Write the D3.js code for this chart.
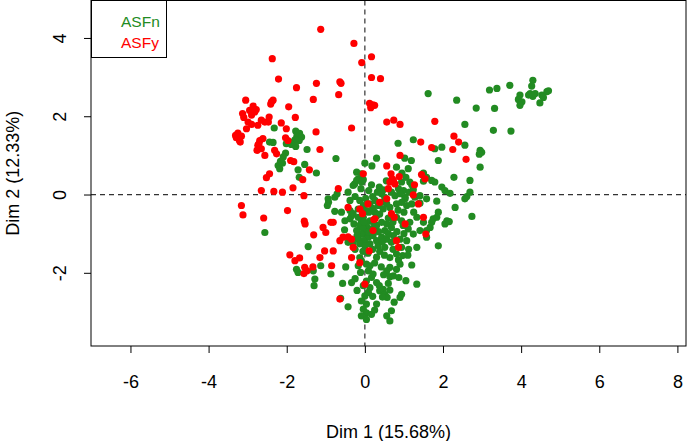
<!DOCTYPE html>
<html><head><meta charset="utf-8">
<script src="https://cdn.jsdelivr.net/npm/d3@7"></script>
<style>
html,body{margin:0;padding:0;background:#fff;}
text{font-family:"Liberation Sans",Arial,sans-serif;}
</style></head>
<body><svg id="c" width="698" height="441"></svg>
<script>
const xTicks = [-6,-4,-2,0,2,4,6,8];
const yTicks = [-2,0,2,4];
const groups = ["ASFn","ASFy"];
const colors = ["#228B22","#FF0000"];
const xTitle = "Dim 1 (15.68%)";
const yTitle = "Dim 2 (12.33%)";

const asfn = [
[-2.32,1.70],[-1.77,1.62],[-1.67,1.56],[-1.74,1.49],[-1.62,1.47],[-1.68,1.38],[-1.79,1.40],[-1.92,1.34],[-2.01,1.30],[-1.88,1.28],
[-2.44,1.34],[-2.35,1.33],[-1.77,1.23],[-1.48,1.15],[-2.03,1.06],[-2.09,0.96],[-2.16,0.85],[-2.22,0.74],[-2.18,0.66],[-2.11,0.80],
[-1.54,0.77],[-1.71,0.63],[-1.68,0.44],[-1.24,0.55],[-0.74,0.92],[-0.21,0.57],[-0.17,0.40],[-0.26,0.27],[-0.94,-0.11],[-0.71,0.02],
[-0.43,0.06],[-0.21,0.36],[-0.09,0.53],[-0.30,0.23],[-0.08,0.32],[-0.04,0.38],[-0.93,-0.20],[-0.96,-0.28],[-0.77,-0.43],[-0.77,-0.07],
[0.00,0.80],[0.18,0.73],[0.30,0.93],[0.85,1.31],[1.24,1.40],[1.02,0.93],[1.19,0.87],[0.81,0.70],
[0.17,0.25],[0.37,0.19],[0.47,0.12],[0.43,0.02],[0.32,0.06],[0.51,-0.07],
[1.11,0.66],[1.05,0.44],[1.15,0.32],[0.94,0.32],[0.86,0.15],[0.99,0.10],[1.14,0.06],[1.24,0.12],[1.03,-0.07],
[1.50,0.55],[1.58,0.44],[1.71,0.36],[1.79,0.32],[1.50,0.34],
[-0.51,-0.67],[-0.38,-0.62],[-0.34,-0.54],
[-0.13,-0.15],[-0.04,-0.28],[-0.17,-0.37],[0.04,-0.41],[0.13,-0.24],[0.26,-0.15],[0.34,-0.28],[0.43,-0.20],[0.56,-0.24],[0.64,-0.33],[0.47,-0.37],
[0.68,0.06],[0.77,-0.03],[0.90,0.02],[1.03,-0.11],[0.94,-0.20],[0.81,-0.24],[1.07,-0.28],[1.20,-0.24],[1.28,-0.07],[1.41,-0.03],[1.58,-0.11],[1.41,-0.22],
[-0.04,-0.58],[0.13,-0.67],[0.04,-0.79],[0.17,-0.88],[0.30,-0.79],[0.43,-0.71],[0.56,-0.75],[0.51,-0.92],[0.68,-0.84],[0.81,-0.58],[0.94,-0.67],[0.98,-0.79],[1.15,-0.71],[1.11,-0.88],[1.33,-0.58],[1.50,-0.71],[1.41,-0.92],
[-0.04,-1.01],[0.09,-1.09],[0.21,-1.05],[0.00,-1.22],[0.13,-1.26],[0.30,-1.18],[0.43,-1.09],[0.34,-1.31],[0.56,-1.14],[0.51,-1.35],[0.68,-1.22],[0.73,-1.05],[0.90,-1.14],[0.94,-1.35],[1.07,-1.18],[1.24,-1.01],[1.33,-1.35],[1.58,-1.09],[1.67,-0.84],
[-0.38,-0.15],[-0.38,-0.41],[-0.30,-0.49],
[-0.17,-0.58],[-0.09,-0.67],[-0.13,-0.79],[-0.21,-0.92],[-0.04,-0.88],[-0.09,-1.01],[-0.17,-1.14],[-0.04,-1.18],[-0.13,-1.26],[0.00,-1.31],
[-0.43,-1.22],[-0.30,-1.26],[-0.13,-1.61],[-0.09,-1.69],[-0.17,-1.82],
[-2.56,-0.97],[-1.45,-1.33],[-1.75,-1.91],[-1.71,-1.99],
[-1.13,-1.82],[-1.32,-1.95],[-1.28,-2.16],[-1.30,-2.33],
[-0.87,-2.03],[-0.49,-1.85],[-0.57,-2.27],[-0.34,-2.25],[-0.62,-2.65],[-0.43,-2.87],[-0.11,-1.99],
[0.04,-1.78],[0.13,-1.82],[0.09,-1.95],[0.17,-2.12],[0.21,-2.03],[0.04,-2.21],[-0.04,-2.33],[0.13,-2.38],[0.09,-2.50],[0.00,-2.59],
[-0.09,-2.72],[0.04,-2.80],[-0.04,-2.93],[0.04,-3.02],[-0.09,-3.10],[0.17,-3.06],[0.04,-3.19],
[0.37,-2.33],[0.38,-2.46],[0.47,-2.42],[0.51,-2.55],[0.57,-2.63],[0.45,-2.62],[0.64,-2.44],[0.60,-2.27],
[0.68,-2.97],[0.56,-3.10],[0.64,-3.23],[0.64,-2.10],[0.73,-2.08],[0.90,-2.63],[0.94,-2.55],[0.87,-2.12],
[0.81,-1.91],[0.64,-1.86],[0.56,-1.95],[0.86,-1.67],[0.97,-1.56],[0.90,-1.78],[0.81,-1.52],[0.64,-1.61],
[1.33,-2.29],[1.88,-1.31],
[-0.25,-0.05],[0.02,-0.10],[0.20,-0.05],[0.10,-0.45],[0.25,-0.45],[0.38,-0.50],[0.20,-0.35],[-0.02,-0.70],[0.22,-0.72],[0.35,-0.95],
[0.10,-0.95],[0.60,-0.60],[0.72,-0.70],[0.60,-1.00],[0.45,-1.20],[0.20,-1.40],[0.38,-1.45],[0.08,-1.50],[-0.05,-1.45],[0.30,-1.60],
[0.50,-1.55],[0.72,-1.40],[0.25,-1.75],[0.42,-1.85],[0.48,-2.05],[0.30,-2.25],[-0.25,-1.40],[-0.20,-1.05],[-0.28,-0.75],[-0.52,-0.90],
[-0.60,-0.45],[0.85,-0.40],[1.00,-0.45],[1.25,-0.45],[1.20,0.25],[0.95,0.55],[0.55,0.35],[0.10,0.10],[-0.10,0.15],[0.30,-0.55],
[0.82,-0.95],[1.00,-1.00],[1.12,-1.40],[0.20,-2.60],[0.30,-2.80],[0.25,-2.95],[-0.20,-2.45],[-0.25,-2.15],[0.75,-2.75],[1.05,-2.20],
[1.20,-1.80],[1.10,-1.55],
[2.56,1.79],[3.29,1.64],[1.79,1.17],[1.97,1.21],[2.56,1.26],[2.95,1.13],[2.99,1.08],[2.93,1.03],[1.88,0.87],[2.95,0.70],
[2.28,0.44],[2.69,0.36],[1.97,0.19],[2.05,0.10],[2.18,0.03],[2.61,-0.05],[2.69,0.06],[2.56,-0.11],[1.84,-0.17],[1.88,-0.45],
[1.75,-0.62],[1.84,-0.58],[1.71,-0.71],[2.10,-0.67],[2.05,-0.75],[2.16,-0.69],[2.74,-0.56],[1.58,-0.92],[2.31,-0.33],
[1.62,2.58],[2.35,2.41],[2.85,2.21],[3.32,2.20],[3.19,2.67],[3.38,2.71],[3.71,2.79],[3.74,1.62],
[4.30,2.92],[4.27,2.77],[4.23,2.58],[4.19,2.54],[4.30,2.51],[3.97,2.54],[3.93,2.43],[4.02,2.37],[3.97,2.28],[4.53,2.54],[4.57,2.48],[4.66,2.63],[4.48,2.34],[4.36,2.58],[4.70,2.65]
];

const asfy = [
[-1.13,4.22],[-0.28,3.86],[0.17,3.52],[-0.08,3.37],[-2.37,3.47],[-2.21,2.95],[0.17,2.99],[0.40,2.96],[-1.75,2.73],[-1.24,2.84],
[-0.64,2.88],[-0.61,2.84],[-0.67,2.55],[-1.32,2.43],[0.12,2.33],[0.20,2.29],[0.15,2.22],[0.25,2.28],
[-3.05,2.41],[-2.39,2.37],[-2.35,2.41],[-2.41,2.31],[-1.95,2.24],[-1.78,1.97],[-0.34,1.70],[-1.25,1.60],[-1.15,1.15],
[0.56,1.85],[0.74,1.90],[0.90,1.79],[0.90,1.00],[0.56,0.73],
[-2.86,2.26],[-2.95,2.15],[-2.82,2.11],[-2.90,2.03],[-3.13,2.07],[-2.78,2.17],
[-3.10,1.97],[-2.99,1.85],[-2.90,1.79],[-3.03,1.68],[-2.74,1.77],[-2.65,1.90],[-2.56,1.85],[-2.45,1.98],[-2.47,1.85],
[-2.14,1.83],[-2.01,1.68],
[-3.25,1.57],[-3.29,1.45],[-3.21,1.38],[-3.16,1.49],[-3.31,1.51],[-3.19,1.34],
[-2.69,1.38],[-2.61,1.43],[-2.74,1.26],[-2.76,1.13],[-2.65,1.17],[-2.71,1.30],
[-2.56,1.00],[-2.31,1.13],[-2.26,1.04],[-2.03,1.45],[-1.97,1.38],
[-1.90,0.87],[-1.82,0.84],[-1.42,0.63],[-1.59,0.38],[-2.44,0.53],[-2.52,0.43],
[-2.65,0.10],[-2.33,0.08],[-2.11,0.06],[-1.84,0.17],[-1.56,-0.03],[-0.68,0.15],
[-3.16,-0.28],[-3.12,-0.52],[-2.59,-0.60],[-1.98,-0.41],[-1.55,-0.68],[-1.53,-0.75],[-1.07,-0.84],[-1.00,-0.97],[-1.31,-1.03],[-0.87,-0.71],[-0.81,-0.71],
[-0.43,-0.33],[-0.13,-0.37],[-0.06,-0.49],
[-0.64,-1.18],[-0.56,-1.09],[-0.43,-1.08],[-0.34,-1.14],[-0.30,-1.35],[-0.34,-1.61],[0.11,-1.44],[0.23,-0.64],[0.08,-0.24],
[-1.92,-1.54],[-1.79,-1.69],[-1.67,-1.62],[-1.54,-1.86],[-1.48,-1.95],[-1.56,-2.02],[-1.33,-1.85],[-1.15,-1.61],[-1.03,-1.44],[-0.81,-1.44],[-0.85,-1.82],
[0.00,-2.29],[0.81,-1.18],[0.86,-1.35],
[0.67,0.53],[0.73,0.36],[0.70,0.40],[0.88,0.46],[0.77,0.27],[0.64,0.32],
[-0.04,0.53],[1.27,0.25],[1.45,0.51],[1.54,0.40],[0.60,0.15],[1.37,-0.24],[0.26,-0.62],[0.68,-0.49],[0.75,-0.58],[1.03,-0.75],[1.50,-0.58],[1.56,-1.01],[0.21,-0.92],
[-0.13,-1.74],[-0.64,-2.67],
[1.79,1.87],[2.28,1.49],[2.40,1.34],[2.25,1.15],[1.43,1.34],[1.71,1.20],[2.59,0.90],[1.24,-0.01],
[0.56,-0.11],[0.38,-0.20]
];

const svg = d3.select("#c");
const L = 91, R = 686, T = 0.5, B = 346;
const x = d3.scaleLinear().domain([-7.01, 8.22]).range([L, R]);
const y = d3.scaleLinear().domain([-3.87, 4.97]).range([B, 0]);

// reference lines
svg.append("line").attr("x1", x(0)).attr("x2", x(0)).attr("y1", T).attr("y2", B)
  .attr("stroke", "#333").attr("stroke-width", 1.2).attr("stroke-dasharray", "5,4");
svg.append("line").attr("x1", L).attr("x2", R).attr("y1", y(0)).attr("y2", y(0))
  .attr("stroke", "#333").attr("stroke-width", 1.2).attr("stroke-dasharray", "5,4");

// points
const series = [asfn, asfy];
series.forEach((data, i) => {
  svg.append("g").selectAll("circle").data(data).join("circle")
    .attr("cx", d => x(d[0])).attr("cy", d => y(d[1])).attr("r", 3.6)
    .attr("fill", colors[i]);
});

// box
svg.append("rect").attr("x", L).attr("y", T).attr("width", R - L).attr("height", B - T)
  .attr("fill", "none").attr("stroke", "#000").attr("stroke-width", 1);

// x axis
const fs = 18;
const gx = svg.append("g").attr("transform", `translate(0,${B})`)
  .call(d3.axisBottom(x).tickValues(xTicks).tickSize(7).tickFormat(d => String(d)));
gx.select(".domain").remove();
gx.selectAll(".tick line").attr("stroke", "#000");
gx.selectAll(".tick text").attr("y", 36).attr("dy", "0.35em")
  .attr("font-size", fs).attr("fill", "#000").style("font-family", "'Liberation Sans',Arial,sans-serif");

// y axis
const gy = svg.append("g").attr("transform", `translate(${L},0)`)
  .call(d3.axisLeft(y).tickValues(yTicks).tickSize(7).tickFormat(d => String(d)));
gy.select(".domain").remove();
gy.selectAll(".tick line").attr("stroke", "#000");
gy.selectAll(".tick text")
  .attr("transform", "rotate(-90)")
  .attr("x", 0).attr("y", -31).attr("dy", "0.35em")
  .attr("text-anchor", "middle")
  .attr("font-size", fs).attr("fill", "#000").style("font-family", "'Liberation Sans',Arial,sans-serif");

// titles
svg.append("text").attr("x", (L + R) / 2).attr("y", 432).attr("dy", "0.35em")
  .attr("text-anchor", "middle").attr("font-size", fs).text(xTitle);
svg.append("text").attr("transform", `translate(13,${(T + B) / 2}) rotate(-90)`)
  .attr("dy", "0.35em").attr("text-anchor", "middle").attr("font-size", fs).text(yTitle);

// legend
svg.append("rect").attr("x", 91.5).attr("y", 0.5).attr("width", 75).attr("height", 57)
  .attr("fill", "#fff").attr("stroke", "#000");
groups.forEach((g, i) => {
  svg.append("text").attr("x", 121).attr("y", 22 + i * 20.5).attr("dy", "0.35em")
    .attr("font-size", 15.5).attr("fill", colors[i]).text(g);
});
</script></body></html>
